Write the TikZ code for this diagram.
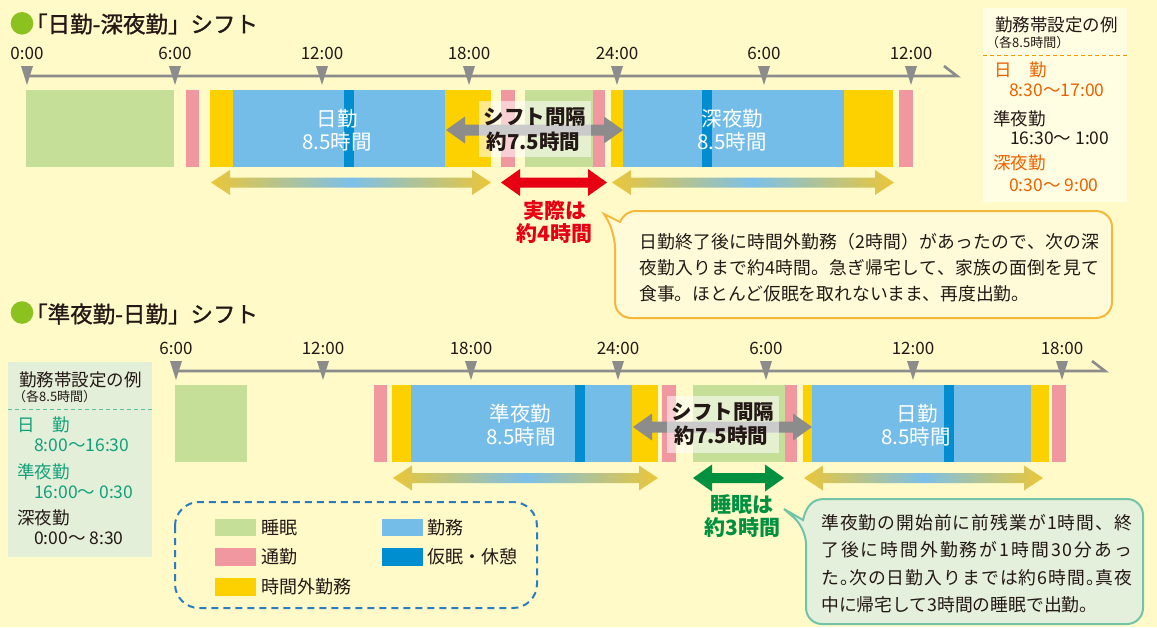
\documentclass[tikz,border=0pt]{standalone}
\usepackage{fontspec}
\setmainfont{Noto Sans CJK JP}
\newfontfamily\ttlfont{Noto Sans CJK JP}[FakeBold=1.2]
\definecolor{bg}{HTML}{FFFAC8}
\definecolor{sleep}{HTML}{C5DE98}
\definecolor{commute}{HTML}{F0979F}
\definecolor{overtime}{HTML}{FDD000}
\definecolor{work}{HTML}{74BDE9}
\definecolor{nap}{HTML}{008ED0}
\definecolor{axisgray}{HTML}{8C8C8C}
\definecolor{ink}{HTML}{231815}
\definecolor{orangetxt}{HTML}{EB6100}
\definecolor{tealtxt}{HTML}{12A07A}
\definecolor{redarrow}{HTML}{E60012}
\definecolor{greenarrow}{HTML}{009140}
\definecolor{gradyellow}{HTML}{EBC638}
\definecolor{gradblue}{HTML}{7CC0E8}
\definecolor{titlegreen}{HTML}{8CC220}
\definecolor{infobg}{HTML}{FFFDE2}
\definecolor{greenbg}{HTML}{E4EFDA}
\definecolor{calloutborder}{HTML}{F5B83A}
\definecolor{calloutfill}{HTML}{FFFBD8}
\definecolor{gcalloutborder}{HTML}{72C4A8}
\definecolor{gcalloutfill}{HTML}{E4F0DC}
\definecolor{legendblue}{HTML}{2A7CC2}
\definecolor{dashorange}{HTML}{F39800}
\definecolor{dashteal}{HTML}{5BBFA0}
\newcommand\fs[1]{\fontsize{#1}{#1}\selectfont}
\makeatletter
\newcommand\jline[2]{\hbox to #1{\@tfor\jc:=#2\do{\jc\hskip 0pt plus 1fil minus .5pt}\unskip}}
\makeatother
\newcommand\kut{\makebox[.45em][l]{。}}
\newcommand\segA[3]{\fill[#1] (#2,90) rectangle (#3,167);}
\newcommand\segB[3]{\fill[#1] (#2,385) rectangle (#3,462);}
\newcommand\dblarrow[6]{%
  \path[#1] (#2,#4) -- ({#2+19},{#4-#6}) -- ({#2+19},{#4-#5}) -- ({#3-19},{#4-#5})
    -- ({#3-19},{#4-#6}) -- (#3,#4) -- ({#3-19},{#4+#6}) -- ({#3-19},{#4+#5})
    -- ({#2+19},{#4+#5}) -- ({#2+19},{#4+#6}) -- cycle;}
\newcommand\tickmark[4]{%
  \fill[axisgray] ({#1-6},{#2-10}) -- ({#1+6},{#2-10}) -- (#1,{#2+9}) -- cycle;
  \node[ticklabel] (#4) at (#1,{#2-22.5}) {#3};}
\tikzset{
  F/.style={font=\fs{#1}, inner sep=0pt,
    text height=\dimexpr #1pt*88/100\relax, text depth=\dimexpr #1pt*12/100\relax},
  ticklabel/.style={F=17, text=ink},
  barlabel/.style={F=20.5, text=white},
  gaplabel/.style={F=20.5, font=\fs{20.5}\bfseries, text=ink},
  notelabel/.style={F=21, font=\fs{21}\bfseries},
  info/.style={F=17.5, anchor=west, text=ink},
  infosmall/.style={F=13, anchor=west, text=ink},
  ctext/.style={F=17.8, anchor=west, text=ink},
  legtext/.style={F=18, anchor=west, text=ink},
  ttl/.style={F=22.5, font=\fs{22.5}\ttlfont, anchor=west, text=ink},
  axisline/.style={draw=axisgray, line width=2.6pt},
  gradarrow/.style={left color=gradyellow, right color=gradyellow, middle color=gradblue},
  gapbox/.style={fill=white, fill opacity=0.55},
  callout/.style={draw=calloutborder, fill=calloutfill, line width=2pt},
  gcallout/.style={draw=gcalloutborder, fill=gcalloutfill, line width=2pt},
}
\begin{document}
\begin{tikzpicture}[x=1pt,y=-1pt]
\fill[bg] (0,0) rectangle (1157,627);
\useasboundingbox (0,0) rectangle (1157,627);

% ===== titles
\fill[titlegreen] (22,23.3) circle (11.3);
\node[ttl] (title1) at (25,24) {「日勤-深夜勤」シフト};
\fill[titlegreen] (22,312.5) circle (11.3);
\node[ttl] (title2) at (25,314) {「準夜勤-日勤」シフト};

% ===== top timeline
\draw[axisline] (25,76) -- (957,76) -- (944,66);
\tickmark{27}{76}{0:00}{ta0}
\tickmark{175}{76}{6:00}{ta1}
\tickmark{322}{76}{12:00}{ta2}
\tickmark{469}{76}{18:00}{ta3}
\tickmark{617}{76}{24:00}{ta4}
\tickmark{764}{76}{6:00}{ta5}
\tickmark{911}{76}{12:00}{ta6}

\segA{sleep}{26}{174}
\segA{commute}{186}{199}
\segA{overtime}{210}{233}
\segA{work}{233}{445}
\segA{nap}{344}{354}
\segA{overtime}{445}{491}
\segA{commute}{501}{515}
\segA{sleep}{525}{593}
\segA{commute}{593}{605}
\segA{overtime}{611}{623}
\segA{work}{623}{844}
\segA{nap}{702}{712}
\segA{overtime}{844}{893}
\segA{commute}{899}{913}

\node[barlabel] (a1) at (337,118.5) {日勤};
\node[barlabel] (a2) at (337,142) {8.5時間};
\node[barlabel] (a3) at (732.5,118.5) {深夜勤};
\node[barlabel] (a4) at (732,142) {8.5時間};

\dblarrow{fill=axisgray}{446}{623}{130}{5.5}{13.5}
\fill[gapbox] (479,101) rectangle (591,157);
\node[gaplabel] (a5) at (535,116.5) {シフト間隔};
\node[gaplabel] (a6) at (533.5,141.5) {約7.5時間};

\dblarrow{shade, gradarrow}{211}{491}{182.5}{5}{12.5}
\dblarrow{fill=redarrow}{501}{607}{182.5}{5}{13.5}
\dblarrow{shade, gradarrow}{612}{894}{182.5}{5}{12.5}
\node[notelabel, text=redarrow] (a7) at (555,210.5) {実際は};
\node[notelabel, text=redarrow] (a8) at (554.5,233.5) {約4時間};

% ===== top info box
\fill[infobg] (983,8) rectangle (1127,202);
\draw[dashorange, line width=1pt, dash pattern=on 4pt off 3pt] (983,55) -- (1127,55);
\node[info] (i1) at (995,25) {勤務帯設定の例};
\node[infosmall] (i2) at (986,42.5) {（各8.5時間）};
\node[info, text=orangetxt] (i3) at (994,70) {日　勤};
\node[info, text=orangetxt] (i4) at (1009,90) {8:30〜17:00};
\node[info] (i5) at (993,118.5) {準夜勤};
\node[info] (i6) at (1010,138) {16:30〜 1:00};
\node[info, text=orangetxt] (i7) at (993,163) {深夜勤};
\node[info, text=orangetxt] (i8) at (1009,185) {0:30〜 9:00};

% ===== top callout
\draw[callout] (604,214) -- (620,222) .. controls (624,214) and (629,211) .. (637,211)
  [rounded corners=16pt] -- (1112,211) -- (1112,318) -- (615,318) -- (615,232) [sharp corners] -- cycle;
\node[ctext] (c1) at (639,241.5) {\jline{460pt}{日勤終了後に時間外勤務（2時間）があったので、次の深}};
\node[ctext] (c2) at (639,267.8) {\jline{460pt}{夜勤入りまで約4時間。急ぎ帰宅して、家族の面倒を見て}};
\node[ctext] (c3) at (639,294) {食事。ほとんど仮眠を取れないまま、再度出勤。};

% ===== bottom timeline
\draw[axisline] (175,371) -- (1105,371) -- (1092,361);
\tickmark{176}{371}{6:00}{tb0}
\tickmark{323}{371}{12:00}{tb1}
\tickmark{471}{371}{18:00}{tb2}
\tickmark{618}{371}{24:00}{tb3}
\tickmark{766}{371}{6:00}{tb4}
\tickmark{913}{371}{12:00}{tb5}
\tickmark{1062}{371}{18:00}{tb6}

\segB{sleep}{175}{247}
\segB{commute}{374}{387}
\segB{overtime}{392}{411}
\segB{work}{411}{632}
\segB{nap}{575}{585}
\segB{overtime}{632}{658}
\segB{commute}{662}{676}
\segB{sleep}{693}{785}
\segB{commute}{785}{797}
\segB{overtime}{803}{812}
\segB{work}{812}{1031}
\segB{nap}{944}{954}
\segB{overtime}{1031}{1049}
\segB{commute}{1052}{1066}

\node[barlabel] (b1) at (520.5,413.5) {準夜勤};
\node[barlabel] (b2) at (521,437) {8.5時間};
\node[barlabel] (b3) at (917,413.5) {日勤};
\node[barlabel] (b4) at (916,437) {8.5時間};

\dblarrow{fill=axisgray}{633}{812}{427}{5.5}{13.5}
\fill[gapbox] (667,396) rectangle (779,453);
\node[gaplabel] (b5) at (723,411.5) {シフト間隔};
\node[gaplabel] (b6) at (721.5,436) {約7.5時間};

\dblarrow{shade, gradarrow}{393}{658}{478}{5}{12.5}
\dblarrow{fill=greenarrow}{693}{784}{478}{5}{13.5}
\dblarrow{shade, gradarrow}{804}{1043}{478}{5}{12.5}
\node[notelabel, text=greenarrow] (b7) at (741.5,504.5) {睡眠は};
\node[notelabel, text=greenarrow] (b8) at (742.5,527.5) {約3時間};

% ===== bottom-left info box
\fill[greenbg] (8,362) rectangle (152,557);
\draw[dashteal, line width=1pt, dash pattern=on 4pt off 3pt] (8,409) -- (152,409);
\node[info] (j1) at (19,379.5) {勤務帯設定の例};
\node[infosmall] (j2) at (13,397) {（各8.5時間）};
\node[info, text=tealtxt] (j3) at (17,425) {日　勤};
\node[info, text=tealtxt] (j4) at (34,445) {8:00〜16:30};
\node[info, text=tealtxt] (j5) at (17,472) {準夜勤};
\node[info, text=tealtxt] (j6) at (34,492) {16:00〜 0:30};
\node[info] (j7) at (17,518) {深夜勤};
\node[info] (j8) at (34,538) {0:00〜 8:30};

% ===== legend
\draw[legendblue, line width=2pt, dash pattern=on 7pt off 5pt, rounded corners=24pt] (175,502) rectangle (537,608);
\fill[sleep] (215,519) rectangle (256,536);
\node[legtext] (l1) at (261,527.5) {睡眠};
\fill[commute] (215,548) rectangle (256,566);
\node[legtext] (l2) at (261,557) {通勤};
\fill[overtime] (215,578) rectangle (256,596);
\node[legtext] (l3) at (261,587) {時間外勤務};
\fill[work] (382,519) rectangle (423,536);
\node[legtext] (l4) at (427,527.5) {勤務};
\fill[nap] (382,548) rectangle (423,566);
\node[legtext] (l5) at (427,557) {仮眠・休憩};

% ===== bottom callout
\draw[gcallout] (784,509) -- (803,520) .. controls (806,507) and (812,499) .. (824,499)
  [rounded corners=16pt] -- (1143,499) -- (1143,624) -- (806,624) -- (806,528) [sharp corners] -- cycle;
\node[ctext] (d1) at (821,522.5) {\jline{311pt}{準夜勤の開始前に前残業が1時間、終}};
\node[ctext] (d2) at (821,550) {\jline{311pt}{了後に時間外勤務が1時間30分あっ}};
\node[ctext] (d3) at (821,578) {\jline{311pt}{た\kut 次の日勤入りまでは約6時間\kut 真夜}};
\node[ctext] (d4) at (821,605) {中に帰宅して3時間の睡眠で出勤。};
\end{tikzpicture}
\end{document}
